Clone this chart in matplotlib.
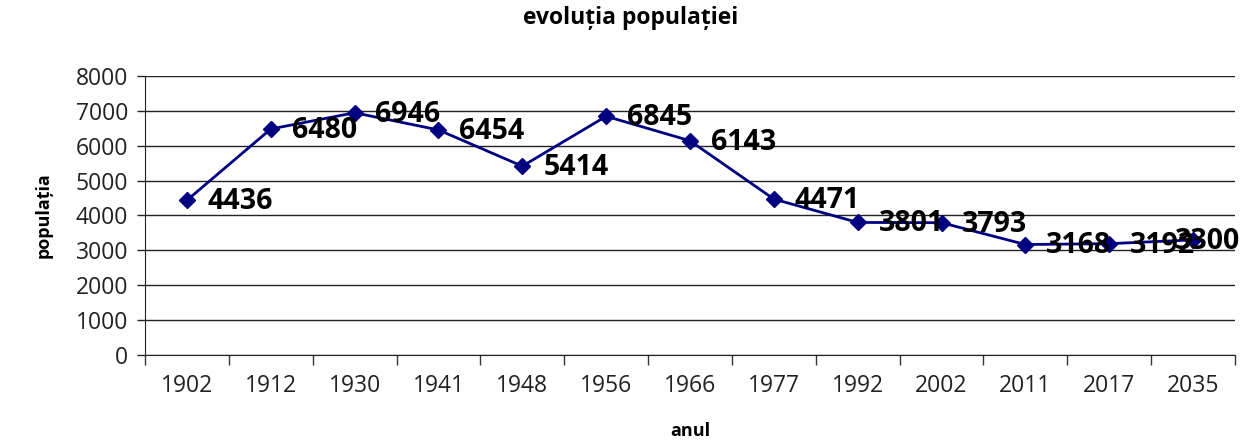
import matplotlib.pyplot as plt

# data
years = ['1902', '1912', '1930', '1941', '1948', '1956', '1966',
         '1977', '1992', '2002', '2011', '2017', '2035']
population = [4436, 6480, 6946, 6454, 5414, 6845, 6143,
              4471, 3801, 3793, 3168, 3192, 3300]

plt.rcParams['font.family'] = ['Open Sans', 'DejaVu Sans']

fig = plt.figure(figsize=(12.51, 4.40), dpi=100)
ax = fig.add_axes([0.1159, 0.1932, 0.8713, 0.6341])

x = list(range(len(years)))
ax.plot(x, population, color='#000080', lw=2, marker='D', ms=8, zorder=3)

# value labels to the right of each point (last one pushed left, as in the original)
for i, v in enumerate(population):
    dx = 15 if i < len(years) - 1 else -13
    ax.annotate(str(v), (i, v), xytext=(dx, -1), textcoords='offset points',
                ha='left', va='center', fontsize=20.5, fontweight='bold',
                color='black', zorder=4)

ax.set_xlim(-0.5, len(years) - 0.5)
ax.set_ylim(0, 8000)
ax.set_yticks(range(0, 8001, 1000))
ax.set_xticks(x)
ax.set_xticklabels(years)
ax.set_xticks([i - 0.5 for i in range(len(years) + 1)], minor=True)
ax.tick_params(axis='x', which='major', length=0, pad=14, labelsize=16.5, colors='#222222')
ax.tick_params(axis='x', which='minor', length=7, width=1, color='#333333')
ax.tick_params(axis='y', length=6, width=1, labelsize=16.5, colors='#222222', pad=6)

ax.grid(axis='y', color='#222222', lw=1)
ax.set_axisbelow(True)
for s in ['top', 'right']:
    ax.spines[s].set_visible(False)
for s in ['left', 'bottom']:
    ax.spines[s].set_color('#222222')

fig.text(0.504, 0.958, 'evoluția populației', fontsize=16.5, fontweight='bold',
         ha='center', va='center')
ax.set_xlabel('anul', fontsize=13, fontweight='bold')
ax.set_ylabel('populația', fontsize=13, fontweight='bold')
ax.xaxis.set_label_coords(0.5, -0.24)
ax.yaxis.set_label_coords(-0.085, 0.5)

fig.savefig('out.png', dpi=100)
